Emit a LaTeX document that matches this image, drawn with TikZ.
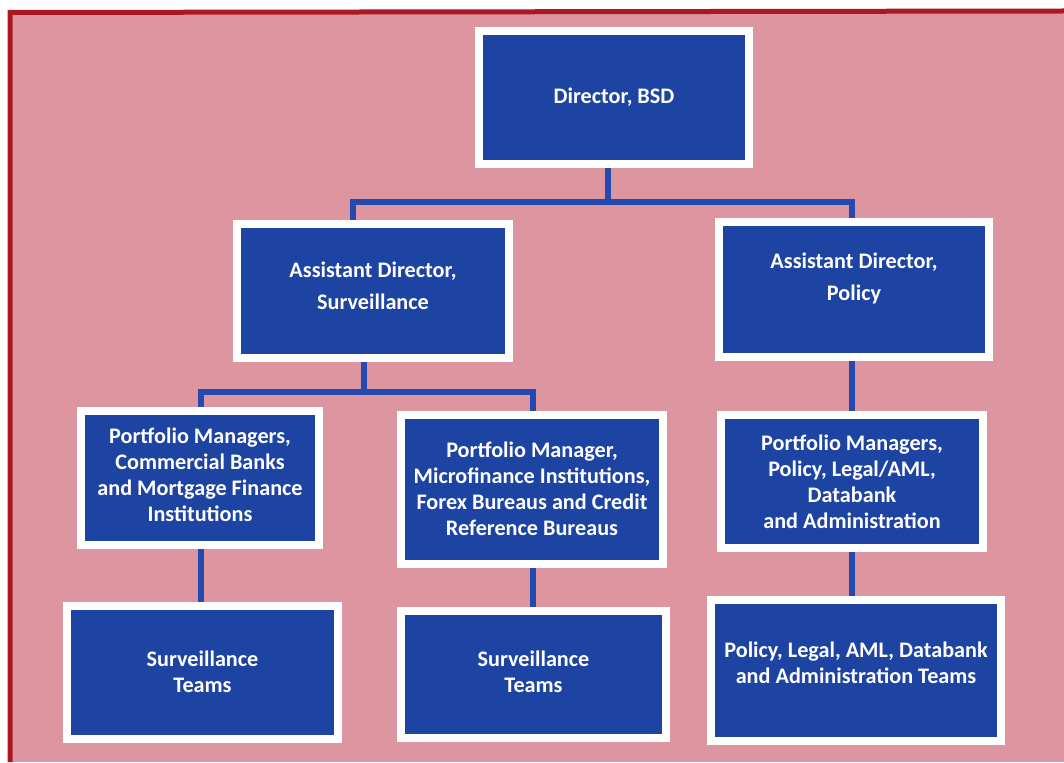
\documentclass[tikz,border=0pt]{standalone}
\usepackage{fontspec}
\setmainfont{Carlito}
\pgfdeclarelayer{bg}
\pgfdeclarelayer{wires}
\pgfsetlayers{bg,wires,main}
\definecolor{pinkbg}{RGB}{221,150,160}
\definecolor{redline}{RGB}{172,24,34}
\definecolor{boxblue}{RGB}{30,68,163}
\definecolor{wireblue}{RGB}{36,74,175}
\tikzset{
  orgbox/.style={draw=white, line width=8pt, fill=boxblue, inner sep=0pt, minimum width=#1},
  txt/.style={text=white, font=\fontsize{22.2}{26}\selectfont\bfseries, align=center, inner sep=0pt},
  wire/.style={draw=wireblue, line width=6pt, line join=miter}
}
\begin{document}
\begin{tikzpicture}[x=1pt,y=-1pt]
\useasboundingbox (0,0) rectangle (1064,762);
\begin{pgfonlayer}{bg}
  \fill[white] (0,0) rectangle (1064,762);
  \fill[pinkbg] (10,12) rectangle (1064,762);
  \draw[redline, line width=5pt] (10,762) -- (10,12.5) -- (1064,11);
\end{pgfonlayer}

% boxes
\node[orgbox=270pt, minimum height=133pt] (dir) at (614,97.5) {};
\node[orgbox=272pt, minimum height=134pt] (ads) at (373,291) {};
\node[orgbox=270pt, minimum height=135pt] (adp) at (854,289.5) {};
\node[orgbox=238pt, minimum height=134pt] (pmc) at (200,478) {};
\node[orgbox=262pt, minimum height=149pt] (pmm) at (532,489.5) {};
\node[orgbox=262pt, minimum height=133pt] (pmp) at (852,481.5) {};
\node[orgbox=271pt, minimum height=133pt] (st1) at (202.5,672.5) {};
\node[orgbox=265pt, minimum height=127pt] (st2) at (533.5,674.5) {};
\node[orgbox=290pt, minimum height=141pt] (tm3) at (856,670.5) {};

% texts
\node[txt] (tdir) at ([yshift=0pt]dir.center) {Director, BSD};
\node[txt] (tads) at ([yshift=5pt]ads.center) {Assistant Director,\\[6pt]Surveillance};
\node[txt] (tadp) at ([yshift=11pt]adp.center) {Assistant Director,\\[6pt]Policy};
\node[txt] (tpmc) at ([yshift=3pt]pmc.center) {Portfolio Managers,\\Commercial Banks\\and Mortgage Finance\\Institutions};
\node[txt] (tpmm) at ([yshift=1pt]pmm.center) {Portfolio Manager,\\Microfinance Institutions,\\Forex Bureaus and Credit\\Reference Bureaus};
\node[txt] (tpmp) at ([yshift=0pt]pmp.center) {Portfolio Managers,\\Policy, Legal/AML,\\Databank\\and Administration};
\node[txt] (tst1) at ([yshift=1pt]st1.center) {Surveillance\\Teams};
\node[txt] (tst2) at ([yshift=3pt]st2.center) {Surveillance\\Teams};
\node[txt] (ttm3) at ([yshift=8pt]tm3.center) {Policy, Legal, AML, Databank\\and Administration Teams};

% junction coordinates
\coordinate (j1) at (608,202);
\coordinate (j1l) at (353,202);
\coordinate (j1r) at (852,202);
\coordinate (j2) at (364,392);
\coordinate (j2l) at (201,392);
\coordinate (j2r) at (533,392);

\begin{pgfonlayer}{wires}
  \draw[wire] (dir.south -| j1) -- (j1);
  \draw[wire] (ads.north -| j1l) -- (j1l) -- (j1r) -- (adp.north -| j1r);
  \draw[wire] (ads.south -| j2) -- (j2);
  \draw[wire] (pmc.north -| j2l) -- (j2l) -- (j2r) -- (pmm.north -| j2r);
  \draw[wire] (pmc.south -| j2l) -- (st1.north -| j2l);
  \draw[wire] (pmm.south -| j2r) -- (st2.north -| j2r);
  \draw[wire] (adp.south -| j1r) -- (pmp.north -| j1r);
  \draw[wire] (pmp.south -| j1r) -- (tm3.north -| j1r);
\end{pgfonlayer}
\end{tikzpicture}
\end{document}
